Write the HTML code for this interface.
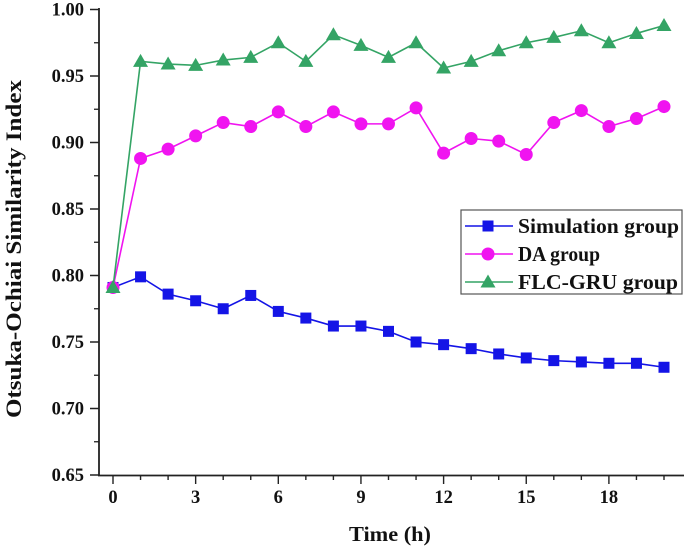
<!DOCTYPE html>
<html><head><meta charset="utf-8"><style>
html,body{margin:0;padding:0;background:#fff;}
svg text{font-family:"Liberation Serif",serif;font-weight:bold;fill:#111;}
</style></head><body>
<svg id="chart" width="685" height="548" viewBox="0 0 685 548">
<g id="axes"></g><g id="series"></g><g id="legend"></g>
</svg>
<script>
const times=[0,1,2,3,4,5,6,7,8,9,10,11,12,13,14,15,16,17,18,19,20];
const simValues=[0.791,0.799,0.786,0.781,0.775,0.785,0.773,0.768,0.762,0.762,0.758,0.750,0.748,0.745,0.741,0.738,0.736,0.735,0.734,0.734,0.731];
const daValues=[0.791,0.888,0.895,0.905,0.915,0.912,0.923,0.912,0.923,0.914,0.914,0.926,0.892,0.903,0.901,0.891,0.915,0.924,0.912,0.918,0.927];
const flcValues=[0.791,0.961,0.959,0.958,0.962,0.964,0.975,0.961,0.981,0.973,0.964,0.975,0.956,0.961,0.969,0.975,0.979,0.984,0.975,0.982,0.988];
const yTickLabels=["0.65","0.70","0.75","0.80","0.85","0.90","0.95","1.00"];
const xTickLabels=["0","3","6","9","12","15","18"];
const seriesNames=["Simulation group","DA group","FLC-GRU group"];

const NS="http://www.w3.org/2000/svg";
function X(t){return 113+t*27.55;}
function Y(v){return 9.5+(1-v)*1330;}
function mk(tag,attrs,parent){const e=document.createElementNS(NS,tag);for(const k in attrs)e.setAttribute(k,attrs[k]);parent.appendChild(e);return e;}
const axes=document.getElementById('axes');
const ser=document.getElementById('series');
const leg=document.getElementById('legend');

let a=mk('line',{x1:99,y1:8,x2:99,y2:475.5,stroke:'#222','stroke-width':1.8},axes);


a=mk('line',{x1:98,y1:475.5,x2:684,y2:475.5,stroke:'#222','stroke-width':1.8},axes);



yTickLabels.forEach((lab,i)=>{
  const v=parseFloat(lab);const y=Y(v);
  mk('line',{x1:90,y1:y,x2:99,y2:y,stroke:'#222','stroke-width':1.5},axes);
  if(i<yTickLabels.length-1){const ym=Y(v+0.025);mk('line',{x1:94,y1:ym,x2:99,y2:ym,stroke:'#222','stroke-width':1.3},axes);}
  const t=mk('text',{x:84,y:y+6,'text-anchor':'end','font-size':18.5},axes);t.textContent=lab;
  
  
});
for(let h=0;h<=20;h++){
  const x=X(h);const major=h%3===0;
  mk('line',{x1:x,y1:475.5,x2:x,y2:major?484:480,stroke:'#222','stroke-width':1.4},axes);
}
xTickLabels.forEach(lab=>{
  const x=X(parseFloat(lab));
  const t=mk('text',{x:x,y:503,'text-anchor':'middle','font-size':18.5},axes);t.textContent=lab;
  
  
});
let tt=mk('text',{x:390,y:541,'text-anchor':'middle','font-size':21,textLength:82,lengthAdjust:'spacingAndGlyphs'},axes);tt.textContent='Time (h)';


tt=mk('text',{x:0,y:0,'text-anchor':'middle','font-size':22,textLength:338,lengthAdjust:'spacingAndGlyphs',transform:'translate(21,249) rotate(-90)'},axes);tt.textContent='Otsuka-Ochiai Similarity Index';



function marker(type,x,y,color,parent){
  if(type==='sq')return mk('rect',{x:x-5.5,y:y-5.5,width:11,height:11,fill:color},parent);
  if(type==='ci')return mk('circle',{cx:x,cy:y,r:6.5,fill:color},parent);
  return mk('polygon',{points:`${x},${y-7.5} ${x-7.5},${y+5.5} ${x+7.5},${y+5.5}`,fill:color},parent);
}
const defs=[[simValues,'#1414e6','sq','simulation-series'],[daValues,'#f014f0','ci','da-series'],[flcValues,'#34a465','tr','flc-gru-series']];
defs.forEach(([vals,col,type,name])=>{
  const g=mk('g',{},ser);
  
  
  const pts=vals.map((v,i)=>X(times[i])+','+Y(v)).join(' ');
  mk('polyline',{points:pts,fill:'none',stroke:col,'stroke-width':1.6},g);
  vals.forEach((v,i)=>{
    const m=marker(type,X(times[i]),Y(v),col,g);
    
    
  });
});

const box=mk('rect',{x:461,y:210,width:221,height:84,fill:'#fff',stroke:'#555','stroke-width':1.2},leg);


const legLens=[161,82,160];
defs.forEach(([vals,col,type,name],i)=>{
  const y=226+i*28;
  const g=mk('g',{},leg);
  
  
  mk('line',{x1:465,y1:y,x2:513,y2:y,stroke:col,'stroke-width':1.6},g);
  marker(type,488,y,col,g);
  const t=mk('text',{x:518,y:y+7,'font-size':21,textLength:legLens[i],lengthAdjust:'spacingAndGlyphs'},g);t.textContent=seriesNames[i];
});
</script>
</body></html>
